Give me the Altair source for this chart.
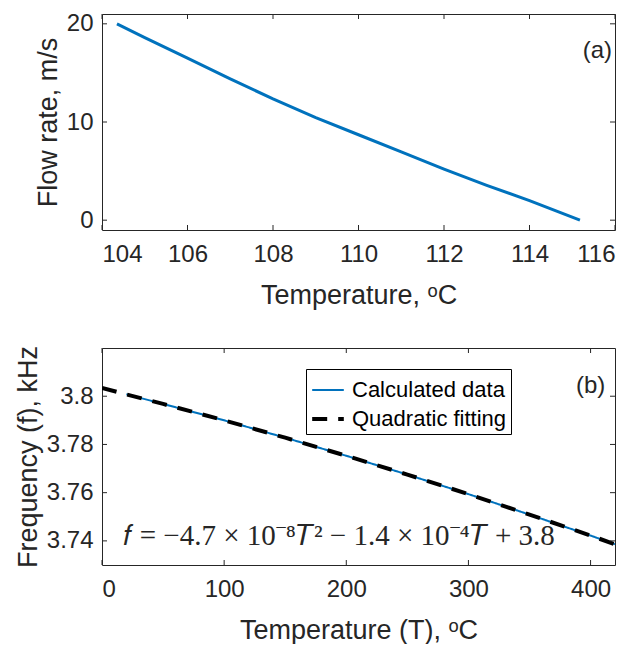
import altair as alt
import pandas as pd

# ---------------- Panel (a) data ----------------
temp_a = [104.35, 105, 106, 107, 108, 109, 110, 111, 112, 113, 114, 115.18]
flow_a = [20.0, 18.6, 16.5, 14.4, 12.35, 10.45, 8.7, 6.95, 5.2, 3.55, 2.0, 0.0]
xticks_a = [104, 106, 108, 110, 112, 114, 116]
yticks_a = [0, 10, 20]

# ---------------- Panel (b) data ----------------
temp_calc = [20, 50, 100, 150, 200, 250, 300, 350, 400, 420]
freq_calc = [3.8008, 3.7968, 3.7900, 3.7828, 3.7753, 3.7675, 3.7594, 3.7509, 3.7422, 3.7386]
temp_fit = [0, 50, 100, 150, 200, 250, 300, 350, 400, 420]
freq_fit = [3.8034, 3.7968, 3.7900, 3.7828, 3.7753, 3.7675, 3.7594, 3.7509, 3.7422, 3.7386]
series_names = ["Calculated data", "Quadratic fitting"]
xticks_b = [0, 100, 200, 300, 400]
yticks_b = [3.74, 3.76, 3.78, 3.80]

W = 513
HA = 216
HB = 217
TXT = "#262626"
BLUE = "#0072BD"
SANS = "Liberation Sans"

# ---------------- Panel (a) ----------------
df_a = pd.DataFrame({"T": temp_a, "V": flow_a})
xa = alt.X("T:Q", scale=alt.Scale(domain=[104, 116], nice=False, zero=False),
           axis=alt.Axis(values=xticks_a, title="Temperature, ᵒC", format="d"))
ya = alt.Y("V:Q", scale=alt.Scale(domain=[-1, 21], nice=False, zero=False),
           axis=alt.Axis(values=yticks_a, title="Flow rate, m/s", format="d"))

line_a = alt.Chart(df_a).mark_line(color=BLUE, strokeWidth=3).encode(x=xa, y=ya)

txa = pd.DataFrame({"T": xticks_a})
tya = pd.DataFrame({"V": yticks_a})
ticks_a = [
    alt.Chart(txa).mark_rule(color=TXT, strokeWidth=1).encode(x=xa, y=alt.value(HA), y2=alt.value(HA - 5)),
    alt.Chart(txa).mark_rule(color=TXT, strokeWidth=1).encode(x=xa, y=alt.value(0), y2=alt.value(5)),
    alt.Chart(tya).mark_rule(color=TXT, strokeWidth=1).encode(y=ya, x=alt.value(0), x2=alt.value(5)),
    alt.Chart(tya).mark_rule(color=TXT, strokeWidth=1).encode(y=ya, x=alt.value(W - 5), x2=alt.value(W)),
]
lab_a = alt.Chart(pd.DataFrame({"T": [115.93], "V": [17.2], "label": ["(a)"]})).mark_text(
    align="right", baseline="middle", font=SANS, fontSize=24, color=TXT
).encode(x=xa, y=ya, text="label:N")

top = alt.layer(line_a, *ticks_a, lab_a).properties(width=W, height=HA)

# ---------------- Panel (b) ----------------
df_b = pd.concat([
    pd.DataFrame({"T": temp_calc, "F": freq_calc, "series": series_names[0]}),
    pd.DataFrame({"T": temp_fit, "F": freq_fit, "series": series_names[1]}),
])
xb = alt.X("T:Q", scale=alt.Scale(domain=[0, 420], nice=False, zero=False),
           axis=alt.Axis(values=xticks_b, title="Temperature (T), ᵒC", format="d"))
yb = alt.Y("F:Q", scale=alt.Scale(domain=[3.73, 3.82], nice=False, zero=False),
           axis=alt.Axis(values=yticks_b, title="Frequency (f), kHz",
                         labelExpr="datum.value == 3.8 ? '3.8' : format(datum.value, '.2f')"))

leg = alt.Legend(title=None, orient="none", legendX=204, legendY=21,
                 fillColor="white", strokeColor="black", padding=4,
                 symbolType="stroke", symbolSize=1000, labelFont=SANS,
                 labelFontSize=22, labelColor="black", labelOffset=6, rowPadding=0)

line_b = alt.Chart(df_b).mark_line(clip=True).encode(
    x=xb, y=yb,
    color=alt.Color("series:N", scale=alt.Scale(domain=series_names, range=[BLUE, "black"]), legend=leg),
    strokeDash=alt.StrokeDash("series:N", scale=alt.Scale(domain=series_names, range=[[1, 0], [15, 11]]), legend=leg),
    strokeWidth=alt.StrokeWidth("series:N", scale=alt.Scale(domain=series_names, range=[2, 4]), legend=leg),
)

txb = pd.DataFrame({"T": xticks_b})
tyb = pd.DataFrame({"F": yticks_b})
ticks_b = [
    alt.Chart(txb).mark_rule(color=TXT, strokeWidth=1).encode(x=xb, y=alt.value(HB), y2=alt.value(HB - 5)),
    alt.Chart(txb).mark_rule(color=TXT, strokeWidth=1).encode(x=xb, y=alt.value(0), y2=alt.value(5)),
    alt.Chart(tyb).mark_rule(color=TXT, strokeWidth=1).encode(y=yb, x=alt.value(0), x2=alt.value(5)),
    alt.Chart(tyb).mark_rule(color=TXT, strokeWidth=1).encode(y=yb, x=alt.value(W - 5), x2=alt.value(W)),
]
lab_b = alt.Chart(pd.DataFrame({"T": [412], "F": [3.8041], "label": ["(b)"]})).mark_text(
    align="right", baseline="middle", font=SANS, fontSize=24, color=TXT
).encode(x=xb, y=yb, text="label:N")
eq_b = alt.Chart(pd.DataFrame({"T": [17.6], "F": [3.7382],
                               "label": ["𝑓 = −4.7 × 10⁻⁸𝑇² − 1.4 × 10⁻⁴𝑇 + 3.8"]})).mark_text(
    align="left", baseline="alphabetic", font="Liberation Serif", fontSize=29, color=TXT
).encode(x=xb, y=yb, text="label:N")

bottom = alt.layer(line_b, *ticks_b, lab_b, eq_b).properties(width=W, height=HB)

chart = alt.vconcat(top, bottom, spacing=35).resolve_legend(
    color="independent", strokeDash="independent", strokeWidth="independent"
).properties(
    padding={"left": 5, "top": 3, "right": 0, "bottom": 0}
).configure_view(stroke=TXT, strokeWidth=1).configure_axis(
    labelFont=SANS, labelFontSize=24, labelColor=TXT,
    titleFont=SANS, titleFontSize=27, titleFontWeight="normal", titleColor=TXT,
    domain=False, ticks=False, grid=False,
).configure_axisX(labelPadding=12, titlePadding=16).configure_axisY(labelPadding=9, titlePadding=4)

chart.save("out.html", embed_options={"renderer": "svg", "actions": False})
